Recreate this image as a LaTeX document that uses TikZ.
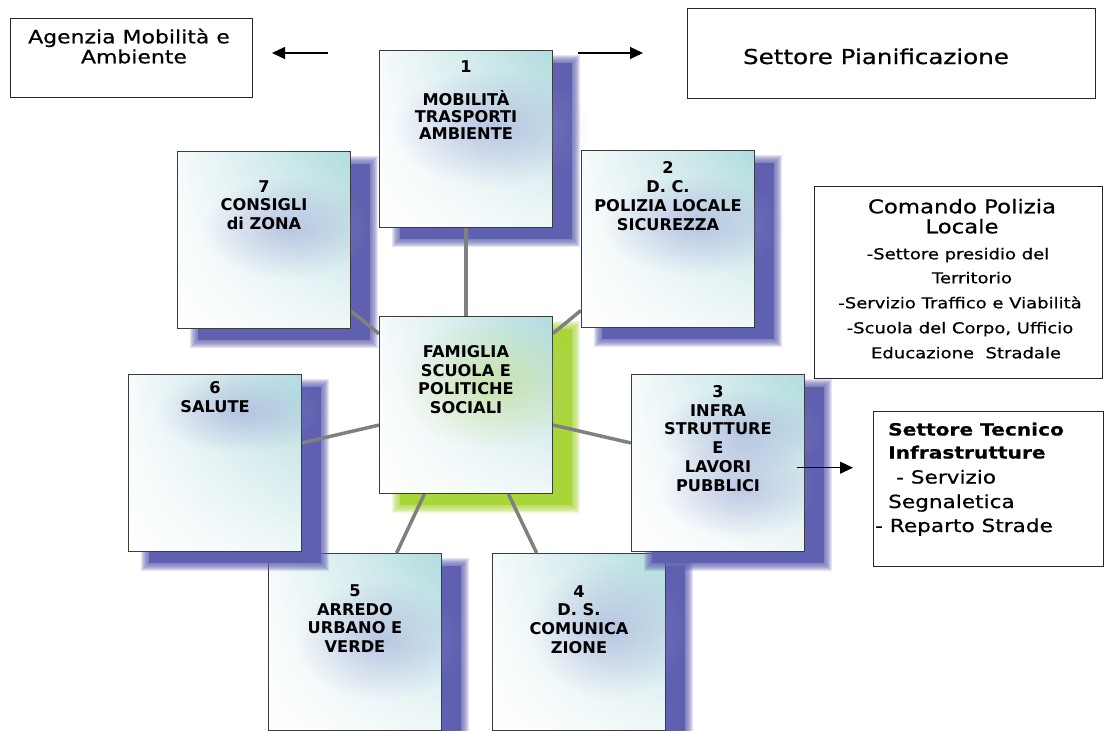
\documentclass[tikz,border=0pt]{standalone}
\usepackage{fontspec}
\setmainfont{DejaVu Sans}
\newfontfamily\geneva{DejaVu Sans}[FakeStretch=1.2,FakeBold=0.6]
\usetikzlibrary{arrows.meta,fadings,shadings}
\definecolor{boxline}{RGB}{60,60,60}
\definecolor{linkgray}{RGB}{128,128,128}
\definecolor{shadowblue}{RGB}{96,96,176}
\definecolor{shadowgreen}{RGB}{168,214,58}
\definecolor{tealA}{RGB}{176,220,222}
\definecolor{tealB}{RGB}{240,247,248}
\definecolor{tealC}{RGB}{246,250,251}
\definecolor{blobblue}{RGB}{150,156,212}
\definecolor{blobgreen}{RGB}{186,218,110}
\pgfdeclarelayer{shlow}
\pgfdeclarelayer{boxlow}
\pgfdeclarelayer{shhigh}
\pgfdeclarelayer{links}
\pgfsetlayers{shlow,boxlow,shhigh,links,main}
\tikzfading[name=softblob, inner color=transparent!50, outer color=transparent!100]
\newcommand{\softshadow}[2]{%
  \foreach \ex in {7,6,5,4,3,2,1,0}{%
    \fill[#2,opacity=0.17] ([shift={(20-\ex,12-\ex)}]#1.north west) rectangle ([shift={(20+\ex,12+\ex)}]#1.south east);}%
  \fill[#2] ([shift={(21,13)}]#1.north west) rectangle ([shift={(19,11)}]#1.south east);}
\newcommand{\blob}[4]{\fill[#1, path fading=softblob] (#2) ellipse [x radius=#3, y radius=#4];}
\begin{document}
\begin{tikzpicture}[x=1pt,y=-1pt,
  unitbox/.style={draw=boxline, line width=1.1pt, minimum width=173pt, minimum height=177pt, inner sep=0pt,
    shade, upper left=tealC, upper right=tealA, lower left=white, lower right=tealB},
  unittext/.style={anchor=north, inner sep=0pt, align=center, font=\fontsize{16.2}{18.8}\selectfont\bfseries},
  link/.style={draw=linkgray, line width=3.5pt},
  infobox/.style={draw=black!85, line width=1pt, fill=white, inner sep=0pt},
  infotext/.style={anchor=base, inner sep=0pt},
  infoleft/.style={anchor=base west, inner sep=0pt},
  arrowline/.style={line width=1.1pt, -{Triangle[length=13pt,width=12pt]}}
]
\useasboundingbox (0,0) rectangle (1104,731);

% ---------- lower boxes (stacked under neighbours' shadows)
\begin{pgfonlayer}{boxlow}
\node[unitbox] (b5) at (355,642) {};
\blob{blobblue}{380,640}{84}{60}
\node[unittext] (t5) at (355,584.3) {5\\ARREDO\\URBANO E\\VERDE};
\node[unitbox] (b4) at (579,642) {};
\blob{blobblue}{610,630}{80}{68}
\node[unittext] (t4) at (579,585) {4\\D. S.\\COMUNICA\\ZIONE};
\end{pgfonlayer}

% ---------- other boxes
\node[unitbox] (b1) at (466,139) {};
\blob{blobblue}{492,128}{100}{58}
\node[unittext, font=\fontsize{16.2}{17.3}\selectfont\bfseries] (t1) at (466,60.7) {1\\[15pt]MOBILITÀ\\TRASPORTI\\AMBIENTE};

\node[unitbox] (b2) at (668,239) {};
\blob{blobblue}{695,225}{92}{50}
\node[unittext] (t2) at (668,161.7) {2\\D. C.\\POLIZIA LOCALE\\SICUREZZA};

\node[unitbox] (b7) at (264,240) {};
\blob{blobblue}{288,228}{86}{50}
\node[unittext] (t7) at (264,180) {7\\CONSIGLI\\di ZONA};

\node[unitbox] (c) at (466,405) {};
\blob{blobgreen}{493,383}{92}{66}
\node[unittext] (tc) at (466,345) {FAMIGLIA\\SCUOLA E\\POLITICHE\\SOCIALI};

\node[unitbox] (b6) at (215,463) {};
\blob{blobblue}{240,412}{84}{40}
\node[unittext] (t6) at (215,381.7) {6\\SALUTE};

\node[unitbox] (b3) at (718,463) {};
\blob{blobblue}{742,432}{84}{44}
\blob{blobblue}{740,488}{80}{50}
\node[unittext] (t3) at (718,385) {3\\INFRA\\STRUTTURE\\E\\LAVORI\\PUBBLICI};

% ---------- shadows
\begin{pgfonlayer}{shlow}
\softshadow{b5}{shadowblue}
\softshadow{b4}{shadowblue}
\end{pgfonlayer}
\begin{pgfonlayer}{shhigh}
\softshadow{b1}{shadowblue}
\softshadow{b2}{shadowblue}
\softshadow{b7}{shadowblue}
\softshadow{b6}{shadowblue}
\softshadow{b3}{shadowblue}
\softshadow{c}{shadowgreen}
\end{pgfonlayer}

% ---------- connectors
\begin{pgfonlayer}{links}
\draw[link] (c) -- (b1);
\draw[link] (c) -- (b2);
\draw[link] (c) -- (b3);
\draw[link] (c) -- (b4);
\draw[link] (c) -- (b5);
\draw[link] (c) -- (b6);
\draw[link] (c) -- (b7);
\end{pgfonlayer}

% ---------- information boxes
\node[infobox, minimum width=242pt, minimum height=79pt] (agenzia) at (131,57.5) {};
\node[infotext, font=\geneva\fontsize{18.3}{20}\selectfont] (agenziaA) at (129,43.3) {Agenzia Mobilità e};
\node[infotext, font=\geneva\fontsize{18.3}{20}\selectfont] (agenziaB) at (134,63.3) {Ambiente};

\node[infobox, minimum width=408pt, minimum height=90pt] (pianif) at (891,53) {};
\node[infotext, font=\geneva\fontsize{20.5}{24}\selectfont] (pianifT) at (876,64) {Settore Pianificazione};

\node[infobox, minimum width=288pt, minimum height=192pt] (comando) at (958,282) {};
\node[infotext, font=\geneva\fontsize{19}{20}\selectfont] (comA) at (962,213.3) {Comando Polizia};
\node[infotext, font=\geneva\fontsize{19}{20}\selectfont] (comB) at (962,233.3) {Locale};
\node[infotext, font=\geneva\fontsize{15}{18}\selectfont] (comC) at (958,259.3) {-Settore presidio del};
\node[infotext, font=\geneva\fontsize{15}{18}\selectfont] (comD) at (972,283.3) {Territorio};
\node[infotext, font=\geneva\fontsize{15}{18}\selectfont] (comE) at (960,308.3) {-Servizio Traffico e Viabilità};
\node[infotext, font=\geneva\fontsize{15}{18}\selectfont] (comF) at (960,333.3) {-Scuola del Corpo, Ufficio};
\node[infotext, font=\geneva\fontsize{15}{18}\selectfont] (comG) at (966,358.3) {Educazione\ \ Stradale};

\node[infobox, minimum width=230pt, minimum height=155pt] (tecnico) at (988,488.5) {};
\node[infoleft, font=\geneva\fontsize{16.8}{20}\selectfont\bfseries] (tecA) at (888,435.5) {Settore Tecnico};
\node[infoleft, font=\geneva\fontsize{16.8}{20}\selectfont\bfseries] (tecB) at (888,458.5) {Infrastrutture};
\node[infoleft, font=\geneva\fontsize{18}{20}\selectfont] (tecC) at (896,483.5) {- Servizio};
\node[infoleft, font=\geneva\fontsize{18}{20}\selectfont] (tecD) at (888,508) {Segnaletica};
\node[infoleft, font=\geneva\fontsize{18}{20}\selectfont] (tecE) at (875,532) {- Reparto Strade};

% ---------- arrows
\coordinate (arrLs) at (328,53);
\coordinate (arrLe) at (272,53);
\coordinate (arrRs) at (578,53);
\coordinate (arrRe) at (643,53);
\coordinate (arrTs) at (797,467.7);
\coordinate (arrTe) at (853,467.7);
\draw[arrowline] (arrLs) -- (arrLe);
\draw[arrowline] (arrRs) -- (arrRe);
\draw[arrowline] (arrTs) -- (arrTe);
\end{tikzpicture}
\end{document}
